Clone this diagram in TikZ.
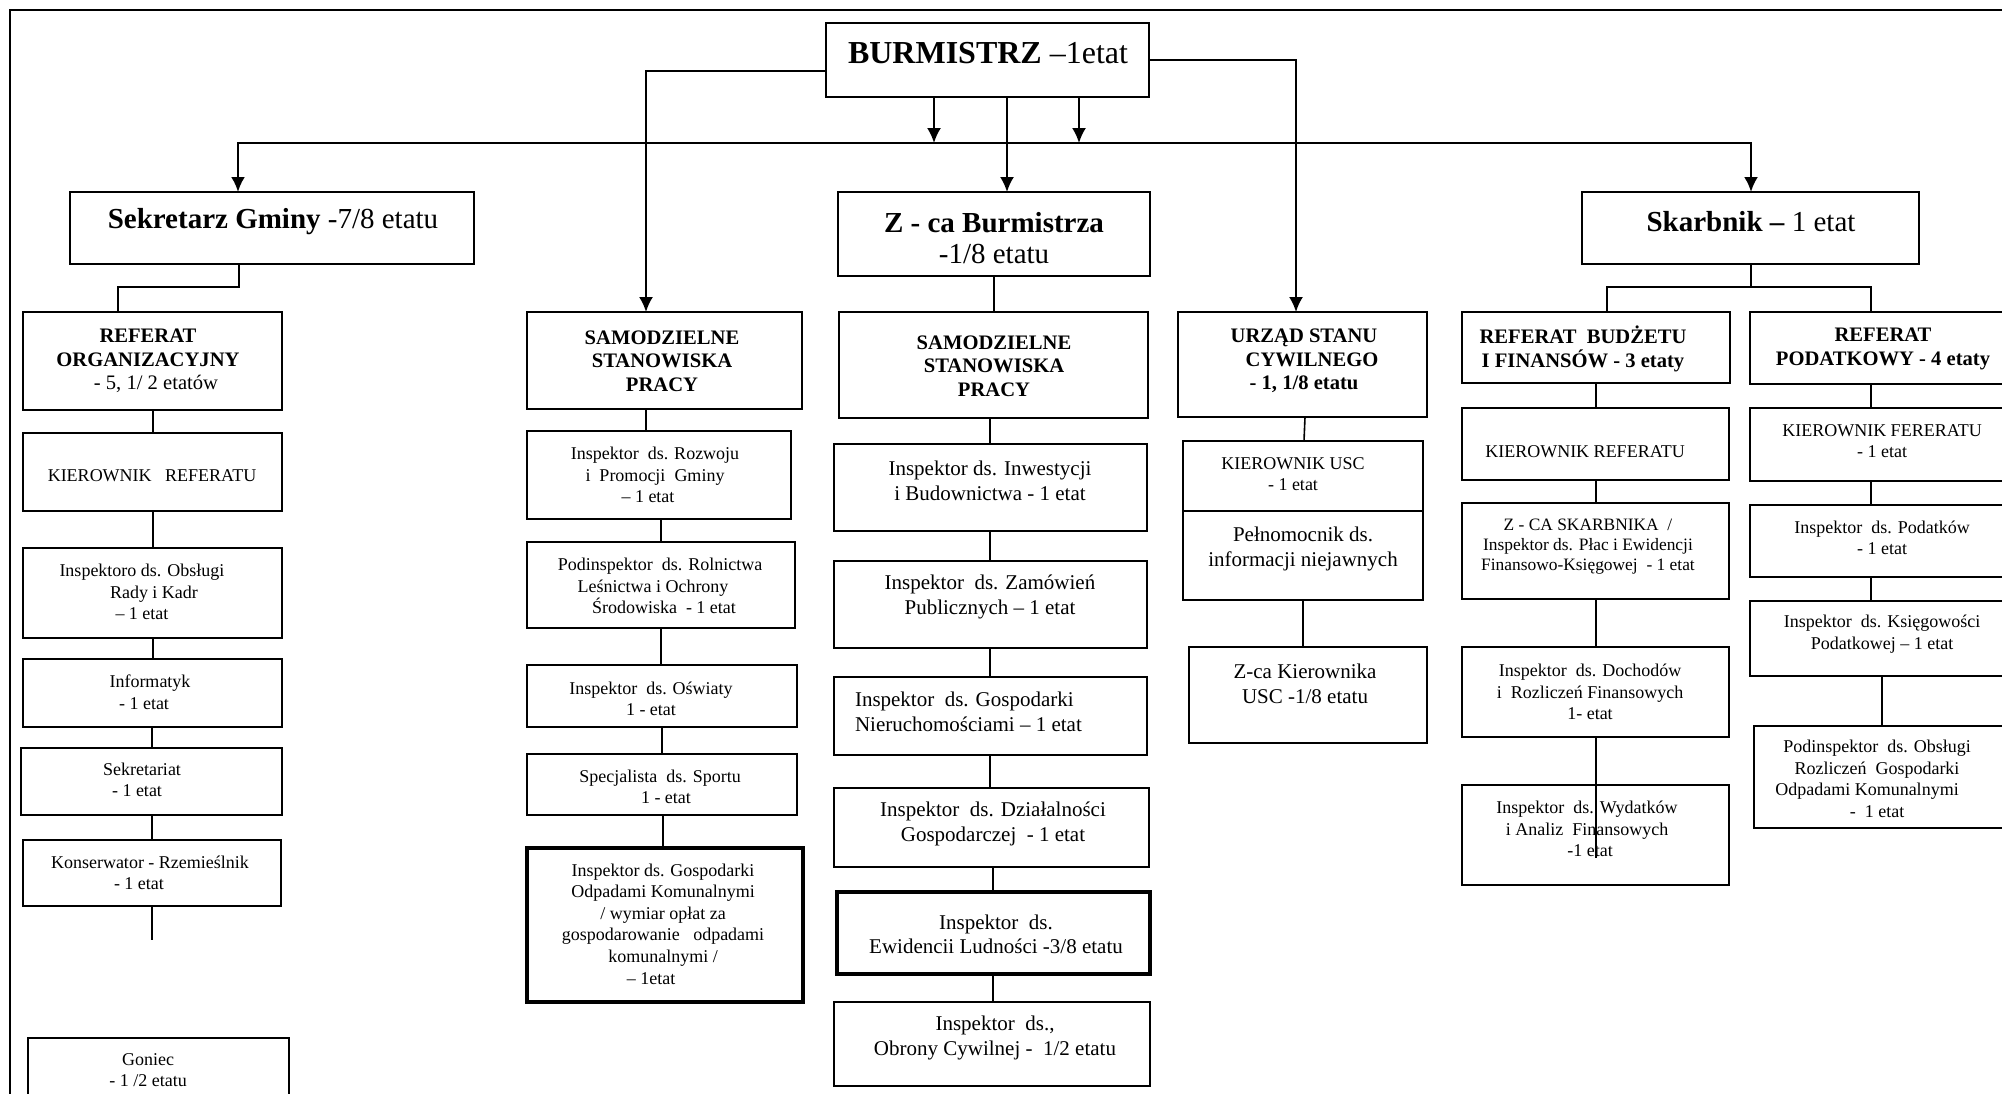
\documentclass[tikz,border=0pt]{standalone}
\usepackage{fontspec}
\setmainfont{Liberation Serif}
\usetikzlibrary{fit,arrows.meta}
\newcommand\myS{\fontsize{9}{10.8}\selectfont}
\newcommand\myT{\fontsize{8.7}{10}\selectfont}
\newcommand\myM{\fontsize{10.5}{12.2}\selectfont}
\newcommand\myH{\fontsize{10.3}{11.8}\selectfont\bfseries}
\newcommand\myL{\fontsize{14.5}{15.6}\selectfont}
\newcommand\myXL{\fontsize{16}{18}\selectfont}
\tikzset{
  box/.style={draw=black, line width=1.1pt, inner sep=0pt, outer sep=0pt, fit={#1}},
  tbox/.style={box={#1}, line width=1.7pt},
  txt/.style={align=center, inner sep=0pt, outer sep=0pt},
  conn/.style={line width=0.8pt},
  arr/.style={line width=1pt, -{Latex[length=7.5pt,width=7pt]}},
  arrb/.style={line width=1.2pt, {Latex[length=7.5pt,width=7pt]}-{Latex[length=7.5pt,width=7pt]}},
  frame/.style={line width=1pt},
}
\begin{document}
\begin{tikzpicture}[x=0.5pt,y=-0.5pt]
\useasboundingbox (0,0) rectangle (2002,1093);
\draw[frame] (10,1100) -- (10,10) -- (2010,10);

% top level
\node[box={(826,23) (1149,97)}] (burm) {};
\node[txt, font=\myXL] (t-burm) at (988,53) {\textbf{BURMISTRZ} –1etat};

\node[box={(70,192) (474,264)}] (sek) {};
\node[txt, font=\myL] (t-sek) at (273,222) {\textbf{Sekretarz Gminy} -7/8 etatu};

\node[box={(838,192) (1150,276)}] (zca) {};
\node[txt, font=\myL] (t-zca) at (994,238) {\textbf{Z - ca Burmistrza}\\-1/8 etatu};

\node[box={(1582,192) (1919,264)}] (skar) {};
\node[txt, font=\myL] (t-skar) at (1751,222) {\textbf{Skarbnik –} 1 etat};

% left column
\node[box={(23,312) (282,410)}] (refo) {};
\node[txt, font=\myH] (t-refo) at (148,361) {REFERAT\\ORGANIZACYJNY\\\mdseries\hspace*{8pt}- 5, 1/ 2 etatów};
\node[box={(23,433) (282,511)}] (kier1) {};
\node[txt, font=\myS] (t-kier1) at (152,476) {KIEROWNIK\ \ \ REFERATU};
\node[box={(23,548) (282,638)}] (obs) {};
\node[txt, font=\myS] (t-obs) at (142,592) {Inspektoro ds. Obsługi\\\hspace*{12pt}Rady i Kadr\\– 1 etat};
\node[box={(23,659) (282,727)}] (inf) {};
\node[txt, font=\myS] (t-inf) at (150,692) {Informatyk\\\hspace*{-6pt}- 1 etat};
\node[box={(21,748) (282,815)}] (sekr) {};
\node[txt, font=\myS] (t-sekr) at (142,780) {Sekretariat\\\hspace*{-5pt}- 1 etat};
\node[box={(23,840) (281,906)}] (kons) {};
\node[txt, font=\myS] (t-kons) at (150,873) {Konserwator - Rzemieślnik\\\hspace*{-11pt}- 1 etat};
\coordinate (kend) at (152,940);
\node[box={(28,1038) (289,1110)}] (gon) {};
\node[txt, font=\myS] (t-gon) at (148,1070) {Goniec\\- 1 /2 etatu};

% column 2
\node[box={(527,312) (802,409)}] (samo1) {};
\node[txt, font=\myH] (t-samo1) at (662,361) {SAMODZIELNE\\STANOWISKA\\PRACY};
\node[box={(527,431) (791,519)}] (rozw) {};
\node[txt, font=\myS] (t-rozw) at (655,475) {Inspektor\ \ ds. Rozwoju\\i\ \ Promocji\ \ Gminy\\\hspace*{-7pt}– 1 etat};
\node[box={(527,542) (795,628)}] (roln) {};
\node[txt, font=\myS] (t-roln) at (660,586) {Podinspektor\ \ ds. Rolnictwa\\\hspace*{-7pt}Leśnictwa i Ochrony\\\hspace*{4pt}Środowiska\ \ - 1 etat};
\node[box={(527,665) (797,727)}] (osw) {};
\node[txt, font=\myS] (t-osw) at (651,699) {Inspektor\ \ ds. Oświaty\\1 - etat};
\node[box={(527,754) (797,815)}] (sport) {};
\node[txt, font=\myS] (t-sport) at (660,787) {Specjalista\ \ ds. Sportu\\\hspace*{6pt}1 - etat};
\node[tbox={(527,848) (803,1002)}] (odp) {};
\node[txt, font=\myS] (t-odp) at (663,924) {Inspektor ds. Gospodarki\\Odpadami Komunalnymi\\/ wymiar opłat za\\gospodarowanie\ \ \ odpadami\\komunalnymi /\\\hspace*{-12pt}– 1etat};

% column 3
\node[box={(839,312) (1148,418)}] (samo2) {};
\node[txt, font=\myH] (t-samo2) at (994,366) {SAMODZIELNE\\STANOWISKA\\PRACY};
\node[box={(834,444) (1147,531)}] (inw) {};
\node[txt, font=\myM] (t-inw) at (990,481) {Inspektor ds. Inwestycji\\i Budownictwa - 1 etat};
\node[box={(834,561) (1147,648)}] (zam) {};
\node[txt, font=\myM] (t-zam) at (990,597) {Inspektor\ \ ds. Zamówień\\Publicznych – 1 etat};
\node[box={(834,677) (1147,755)}] (nier) {};
\node[txt, font=\myM, align=left, anchor=west] (t-nier) at (855,712) {Inspektor\ \ ds. Gospodarki\\Nieruchomościami – 1 etat};
\node[box={(834,788) (1149,867)}] (dzial) {};
\node[txt, font=\myM] (t-dzial) at (993,824) {Inspektor\ \ ds. Działalności\\Gospodarczej\ \ - 1 etat};
\node[tbox={(837,892) (1150,974)}] (ewid) {};
\node[txt, font=\myM] (t-ewid) at (996,934) {Inspektor\ \ ds.\\Ewidencii Ludności -3/8 etatu};
\node[box={(834,1002) (1150,1086)}] (obr) {};
\node[txt, font=\myM] (t-obr) at (995,1038) {Inspektor\ \ ds.,\\Obrony Cywilnej -\ \ 1/2 etatu};

% column 4
\node[box={(1178,312) (1427,417)}] (usc) {};
\node[txt, font=\myH] (t-usc) at (1304,361) {URZĄD STANU\\\hspace*{8pt}CYWILNEGO\\- 1, 1/8 etatu};
\node[box={(1183,441) (1423,511)}] (kusc) {};
\node[txt, font=\myS] (t-kusc) at (1293,474) {KIEROWNIK USC\\- 1 etat};
\node[box={(1183,511) (1423,600)}] (peln) {};
\node[txt, font=\myM] (t-peln) at (1303,549) {Pełnomocnik ds.\\informacji niejawnych};
\node[box={(1189,647) (1427,743)}] (zkier) {};
\node[txt, font=\myM] (t-zkier) at (1305,684) {Z-ca Kierownika\\USC -1/8 etatu};

% column 5
\node[box={(1462,312) (1730,383)}] (rbud) {};
\node[txt, font=\myH] (t-rbud) at (1583,349) {REFERAT\ \ BUDŻETU\\I FINANSÓW - 3 etaty};
\node[box={(1462,408) (1729,480)}] (kier2) {};
\node[txt, font=\myS] (t-kier2) at (1585,452) {KIEROWNIK REFERATU};
\node[box={(1462,503) (1729,599)}] (zskarb) {};
\node[txt, font=\myT] (t-zskarb) at (1588,547) {Z - CA SKARBNIKA\ \ /\\Inspektor ds. Płac i Ewidencji\\Finansowo-Księgowej\ \ - 1 etat};
\node[box={(1462,647) (1729,737)}] (doch) {};
\node[txt, font=\myS] (t-doch) at (1590,692) {Inspektor\ \ ds. Dochodów\\i\ \ Rozliczeń Finansowych\\1- etat};
\node[box={(1462,785) (1729,885)}] (wyd) {};
\node[txt, font=\myS] (t-wyd) at (1587,829) {Inspektor\ \ ds. Wydatków\\i Analiz\ \ Finansowych\\\hspace*{3pt}-1 etat};
\coordinate (wydend) at (1596,858);

% column 6
\node[box={(1750,312) (2012,384)}] (rpod) {};
\node[txt, font=\myH] (t-rpod) at (1883,349) {REFERAT\\PODATKOWY - 4 etaty};
\node[box={(1750,408) (2012,481)}] (kier3) {};
\node[txt, font=\myS] (t-kier3) at (1882,441) {KIEROWNIK FERERATU\\- 1 etat};
\node[box={(1750,505) (2012,577)}] (podat) {};
\node[txt, font=\myS] (t-podat) at (1882,538) {Inspektor\ \ ds. Podatków\\- 1 etat};
\node[box={(1750,601) (2012,676)}] (ksieg) {};
\node[txt, font=\myS] (t-ksieg) at (1882,634) {Inspektor\ \ ds. Księgowości\\Podatkowej – 1 etat};
\node[box={(1754,726) (2012,828)}] (podins) {};
\node[txt, font=\myS] (t-podins) at (1877,779) {Podinspektor\ \ ds. Obsługi\\Rozliczeń\ \ Gospodarki\\\hspace*{-10pt}Odpadami Komunalnymi\\-\ \ 1 etat};

% arrows from BURMISTRZ
\coordinate (busL) at (238,143);
\coordinate (busR) at (1751,143);
\coordinate (busA) at (934,143);
\coordinate (busB) at (1079,143);
\draw[arrb] (sek.north -| busL) |- (busR) -- (skar.north -| busR);
\draw[arr] (burm.south -| busA) -- (busA);
\draw[arr] (burm.south -| busB) -- (busB);
\draw[arr] (burm.south -| 1007,0) -- (zca.north -| 1007,0);
\draw[arr] (burm.west |- 0,71) -| (samo1.north -| 646,0);
\draw[arr] (burm.east |- 0,60) -| (usc.north -| 1296,0);

% left column connectors
\draw[conn, line width=1pt] (sek.south -| 239,0) -- ++(0,23) -| (refo.north -| 118,0);
\draw[conn] (refo.south -| 153,0) -- (kier1.north -| 153,0);
\draw[conn] (kier1.south -| 153,0) -- (obs.north -| 153,0);
\draw[conn] (obs.south -| 153,0) -- (inf.north -| 153,0);
\draw[conn] (inf.south -| 152,0) -- (sekr.north -| 152,0);
\draw[conn] (sekr.south -| 152,0) -- (kons.north -| 152,0);
\draw[conn] (kons.south -| 152,0) -- (kend);

% column 2 connectors
\draw[conn] (samo1.south -| 646,0) -- (rozw.north -| 646,0);
\draw[conn] (rozw.south -| 661,0) -- (roln.north -| 661,0);
\draw[conn] (roln.south -| 661,0) -- (osw.north -| 661,0);
\draw[conn] (osw.south -| 662,0) -- (sport.north -| 662,0);
\draw[conn] (sport.south -| 663,0) -- (odp.north -| 663,0);

% column 3 connectors
\draw[conn] (zca.south -| 994,0) -- (samo2.north -| 994,0);
\draw[conn] (samo2.south -| 990,0) -- (inw.north -| 990,0);
\draw[conn] (inw.south -| 990,0) -- (zam.north -| 990,0);
\draw[conn] (zam.south -| 990,0) -- (nier.north -| 990,0);
\draw[conn] (nier.south -| 990,0) -- (dzial.north -| 990,0);
\draw[conn] (dzial.south -| 993,0) -- (ewid.north -| 993,0);
\draw[conn] (ewid.south -| 993,0) -- (obr.north -| 993,0);

% column 4 connectors
\draw[conn] (usc.south -| 1305,0) -- (kusc.north -| 1304,0);
\draw[conn] (peln.south -| 1303,0) -- (zkier.north -| 1303,0);

% Skarbnik connectors
\draw[conn, line width=1pt] (skar.south -| 1751,0) -- ++(0,23);
\draw[conn, line width=1pt] (rbud.north -| 1607,0) -- ++(0,-25) -| (rpod.north -| 1871,0);
\draw[conn] (rbud.south -| 1596,0) -- (kier2.north -| 1596,0);
\draw[conn] (kier2.south -| 1596,0) -- (zskarb.north -| 1596,0);
\draw[conn] (zskarb.south -| 1596,0) -- (doch.north -| 1596,0);
\draw[conn] (doch.south -| 1596,0) -- (wydend);
\draw[conn, line width=1pt] (rpod.south -| 1871,0) -- (kier3.north -| 1871,0);
\draw[conn, line width=1pt] (kier3.south -| 1871,0) -- (podat.north -| 1871,0);
\draw[conn, line width=1pt] (podat.south -| 1871,0) -- (ksieg.north -| 1871,0);
\draw[conn] (ksieg.south -| 1882,0) -- (podins.north -| 1882,0);
\end{tikzpicture}
\end{document}
